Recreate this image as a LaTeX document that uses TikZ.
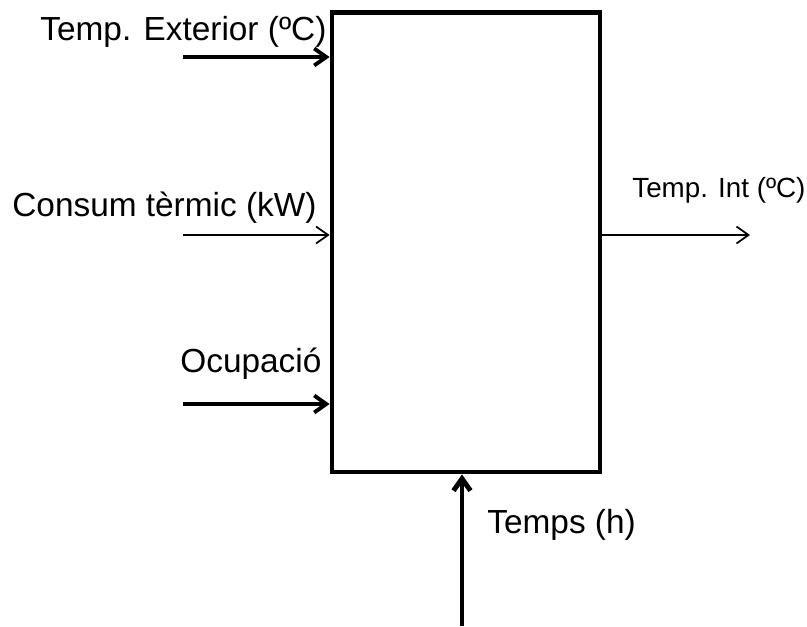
\documentclass[tikz,border=0pt]{standalone}
\usepackage{fontspec}
\setmainfont{Liberation Sans}
\usetikzlibrary{arrows.meta,positioning,calc}
\tikzset{
  blk/.style={draw, line width=2.8pt, inner sep=0pt, minimum width=5.36cm, minimum height=9.2cm},
  lbl/.style={font=\fontsize{19}{22}\selectfont, inner sep=0pt},
  lblsmall/.style={font=\fontsize{15.8}{18}\selectfont, inner sep=0pt},
  thin/.style={-{Straight Barb[length=2.4mm,width=3.4mm]}, line width=1pt},
  heavy/.style={-{Straight Barb[length=2.4mm,width=3.4mm]}, line width=2.2pt},
  heavier/.style={-{Straight Barb[length=2.4mm,width=3.4mm]}, line width=2.8pt}
}
\begin{document}
\begin{tikzpicture}[x=0.02cm,y=-0.02cm]
  \useasboundingbox (0,0) rectangle (807,626);
  \node[blk] (sys) at (466,242) {};
  % entrades
  \coordinate (inText) at (183,57);
  \coordinate (inCons) at (183,235);
  \coordinate (inOcup) at (183,404);
  \coordinate (inTime) at (462,626);
  \coordinate (outInt) at (750,235);
  \draw[heavy] (inText) -- (inText -| sys.west);
  \draw[thin] (inCons) -- (inCons -| sys.west);
  \draw[heavy] (inOcup) -- (inOcup -| sys.west);
  \draw[heavier] (inTime) -- (inTime |- sys.south);
  % sortida
  \draw[thin] (outInt -| sys.east) -- (outInt);
  % etiquetes
  \node[lbl, anchor=west] (lText) at (40,32) {Temp. Exterior (ºC)};
  \node[lbl, anchor=west] (lCons) at (12,208) {Consum tèrmic (kW)};
  \node[lbl, anchor=west] (lOcup) at (180,364) {Ocupació};
  \node[lblsmall, anchor=west] (lInt) at (632,190) {Temp. Int (ºC)};
  \node[lbl, anchor=west] (lTime) at (487,525) {Temps (h)};
\end{tikzpicture}
\end{document}
